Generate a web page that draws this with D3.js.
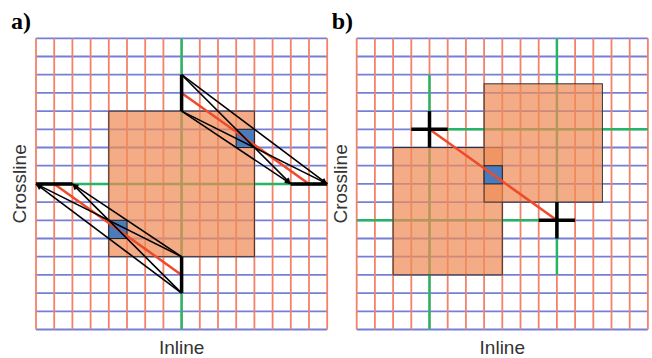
<!DOCTYPE html>
<html>
<head>
<meta charset="utf-8">
<script src="https://cdn.jsdelivr.net/npm/d3@7"></script>
<style>
  body { margin: 0; background: #fff; }
  svg { display: block; }
</style>
</head>
<body>
<script>
// grid indices (17 lines each way, 16 cells)
const gridIdx = [0, 1, 2, 3, 4, 5, 6, 7, 8, 9, 10, 11, 12, 13, 14, 15, 16];

// panel a
const boxesA = [[4, 4, 12, 12]];
const cellsA = [[11, 5], [4, 10]];
const greenA = [[8, 0, 8, 16], [0, 8, 16, 8]];
const thickA = [[8, 2, 8, 4], [14, 8, 16, 8], [8, 12, 8, 14], [0, 8, 2, 8]];
const raysA = [
  [8, 2, 16, 8], [8, 2, 14, 8], [8, 4, 16, 8], [8, 4, 14, 8],
  [8, 14, 0, 8], [8, 14, 2, 8], [8, 12, 0, 8], [8, 12, 2, 8]
];
const redA = [[8, 3, 15, 8], [8, 13, 1, 8]];

// panel b
const boxesB = [[2, 6, 8, 13], [7, 2.5, 13.5, 9]];
const cellsB = [[7, 7]];
const greenB = [[4, 2, 4, 16], [3, 5, 16, 5], [11, 0, 11, 13], [0, 10, 12, 10]];
const crossesB = [[4, 5], [11, 10]];
const redB = [[4, 5, 11, 10]];

const panels = [
  { label: "a)", left: 36, boxes: boxesA, cells: cellsA, green: greenA, thick: thickA, rays: raysA, red: redA, crosses: [] },
  { label: "b)", left: 356.7, boxes: boxesB, cells: cellsB, green: greenB, thick: [], rays: [], red: redB, crosses: crossesB }
];

const width = 652, height = 358;
const size = 291.2, top0 = 38.3;

const svg = d3.select("body").append("svg")
  .attr("width", width)
  .attr("height", height);

svg.append("defs").append("marker")
  .attr("id", "arr")
  .attr("viewBox", "0 0 10 10")
  .attr("refX", 10).attr("refY", 5)
  .attr("markerWidth", 8).attr("markerHeight", 6)
  .attr("markerUnits", "userSpaceOnUse")
  .attr("orient", "auto")
  .append("path")
  .attr("d", "M0,0L10,5L0,10z")
  .attr("fill", "#000");

panels.forEach(p => {
  const x = d3.scaleLinear().domain([0, 16]).range([p.left, p.left + size]);
  const y = d3.scaleLinear().domain([0, 16]).range([top0, top0 + size]);
  const g = svg.append("g");

  // horizontal (blue) grid lines
  g.selectAll(".hl").data(gridIdx).enter().append("line")
    .attr("x1", x(0)).attr("x2", x(16))
    .attr("y1", d => y(d)).attr("y2", d => y(d))
    .attr("stroke", "#7480d6").attr("stroke-width", 1.8);

  // vertical (red) grid lines
  g.selectAll(".vl").data(gridIdx).enter().append("line")
    .attr("y1", y(0)).attr("y2", y(16))
    .attr("x1", d => x(d)).attr("x2", d => x(d))
    .attr("stroke", "#f4826a").attr("stroke-width", 1.8);

  g.selectAll(".gr").data(p.green).enter().append("line")
    .attr("x1", d => x(d[0])).attr("y1", d => y(d[1]))
    .attr("x2", d => x(d[2])).attr("y2", d => y(d[3]))
    .attr("stroke", "#27b565").attr("stroke-width", 2.5);

  g.selectAll(".box").data(p.boxes).enter().append("rect")
    .attr("x", d => x(d[0])).attr("y", d => y(d[1]))
    .attr("width", d => x(d[2]) - x(d[0]))
    .attr("height", d => y(d[3]) - y(d[1]))
    .attr("fill", "#ef8c57").attr("fill-opacity", 0.72)
    .attr("stroke", "#333").attr("stroke-width", 1);

  g.selectAll(".cell").data(p.cells).enter().append("rect")
    .attr("x", d => x(d[0])).attr("y", d => y(d[1]))
    .attr("width", x(1) - x(0)).attr("height", y(1) - y(0))
    .attr("fill", "#4a7bbd")
    .attr("stroke", "#222").attr("stroke-width", 1);

  g.selectAll(".red").data(p.red).enter().append("line")
    .attr("x1", d => x(d[0])).attr("y1", d => y(d[1]))
    .attr("x2", d => x(d[2])).attr("y2", d => y(d[3]))
    .attr("stroke", "#ef4a2a").attr("stroke-width", 2.5);

  g.selectAll(".ray").data(p.rays).enter().append("line")
    .attr("x1", d => x(d[0])).attr("y1", d => y(d[1]))
    .attr("x2", d => x(d[2])).attr("y2", d => y(d[3]))
    .attr("stroke", "#000").attr("stroke-width", 1.6)
    .attr("marker-end", "url(#arr)");

  g.selectAll(".thick").data(p.thick).enter().append("line")
    .attr("x1", d => x(d[0])).attr("y1", d => y(d[1]))
    .attr("x2", d => x(d[2])).attr("y2", d => y(d[3]))
    .attr("stroke", "#000").attr("stroke-width", 3.5);

  p.crosses.forEach(c => {
    g.append("line")
      .attr("x1", x(c[0] - 1)).attr("x2", x(c[0] + 1))
      .attr("y1", y(c[1])).attr("y2", y(c[1]))
      .attr("stroke", "#000").attr("stroke-width", 3.5);
    g.append("line")
      .attr("x1", x(c[0])).attr("x2", x(c[0]))
      .attr("y1", y(c[1] - 1)).attr("y2", y(c[1] + 1))
      .attr("stroke", "#000").attr("stroke-width", 3.5);
  });

  // labels
  svg.append("text")
    .attr("x", p.left - 25).attr("y", 29)
    .attr("font-family", "Liberation Serif, serif")
    .attr("font-weight", "bold").attr("font-size", 24)
    .text(p.label);

  svg.append("text")
    .attr("transform", `translate(${p.left - 10},${y(8)}) rotate(-90)`)
    .attr("text-anchor", "middle")
    .attr("font-family", "Liberation Sans, Arial, sans-serif")
    .attr("font-size", 19).attr("fill", "#333")
    .text("Crossline");

  svg.append("text")
    .attr("x", x(8)).attr("y", 354)
    .attr("text-anchor", "middle")
    .attr("font-family", "Liberation Sans, Arial, sans-serif")
    .attr("font-size", 19).attr("fill", "#333")
    .text("Inline");
});
</script>
</body>
</html>
